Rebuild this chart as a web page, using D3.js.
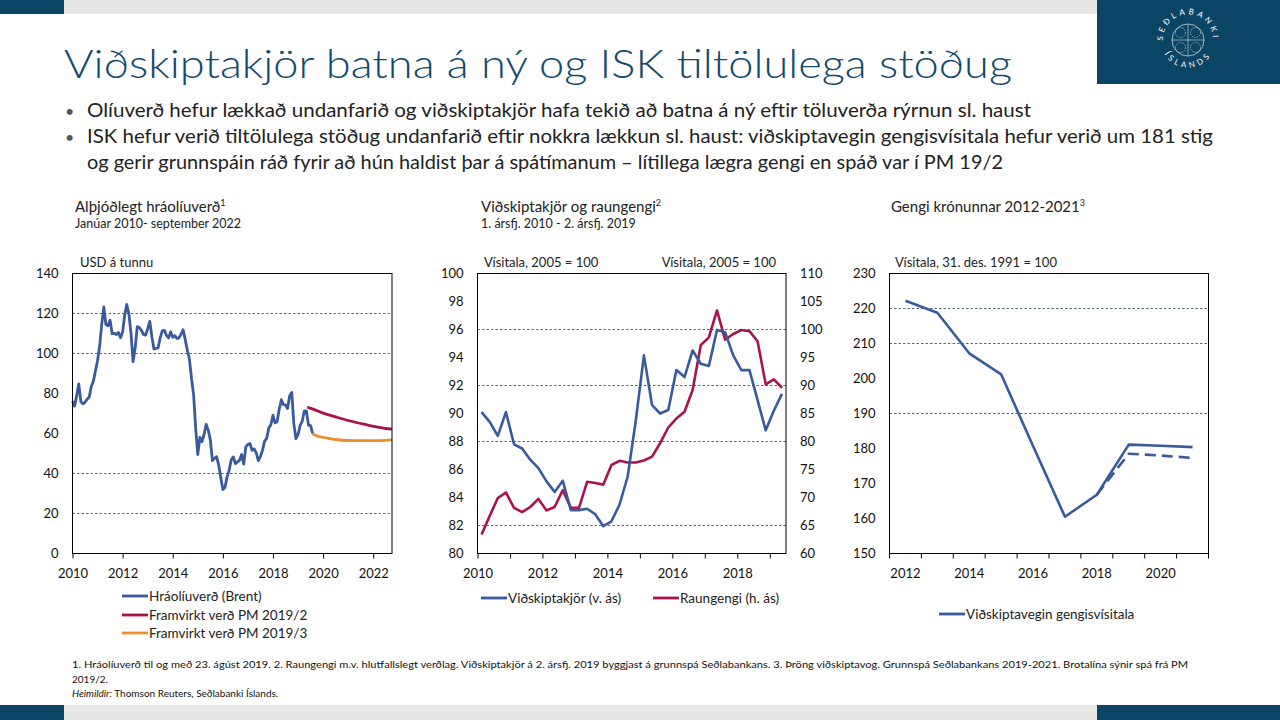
<!DOCTYPE html>
<html>
<head>
<meta charset="utf-8">
<title>Viðskiptakjör batna á ný og ISK tiltölulega stöðug</title>
<style>
  body { margin: 0; background: #fff; }
  svg { display: block; font-family: Lato, "Open Sans", sans-serif; }
</style>
</head>
<body>
<div id="container"></div>
<script src="https://cdn.jsdelivr.net/npm/d3@7"></script>
<script>
// ---- data ----

// Brent, monthly averages Jan 2010 - Aug 2019 (USD á tunnu)
const brentStart = 2010;
const brentValues = [
  76.2, 73.7, 78.8, 84.8, 75.9, 74.8, 75.6, 77.1, 78.2, 83.5, 86.1, 91.4,
  96.5, 103.7, 114.6, 123.3, 114.5, 113.9, 116.7, 109.9, 110.1, 109.5, 110.5, 107.9,
  110.7, 119.3, 124.5, 119.8, 110.3, 95.9, 102.6, 113.4, 113.0, 111.5, 109.5, 109.2,
  112.3, 116.1, 108.5, 102.3, 102.6, 102.9, 107.9, 111.3, 111.6, 109.1, 107.8, 110.8,
  108.1, 108.9, 107.5, 107.8, 109.7, 111.9, 106.8, 101.6, 97.1, 87.4, 79.4, 62.3,
  49.5, 58.1, 55.9, 59.5, 64.6, 61.7, 56.8, 46.5, 47.6, 48.4, 44.3, 38.0,
  32.0, 33.0, 38.2, 41.6, 46.7, 48.3, 44.9, 45.8, 46.6, 49.5, 44.7, 53.3,
  54.6, 54.9, 51.6, 52.3, 50.3, 46.4, 48.5, 51.7, 56.2, 57.6, 62.7, 64.4,
  69.1, 65.3, 66.0, 72.1, 76.9, 74.4, 74.3, 72.5, 78.9, 80.5, 64.8, 57.4,
  59.4, 64.0, 66.1, 71.2, 71.3, 64.2, 63.9, 60.0
];
// forward curves (date as fractional year)
const fwd2Times  = [2019.37, 2019.6, 2020.0, 2020.5, 2021.0, 2021.5, 2022.0, 2022.5, 2022.75];
const fwd2Values = [73.2, 72.2, 70.2, 68.3, 66.5, 65.0, 63.6, 62.5, 62.2];
const fwd3Times  = [2019.58, 2019.75, 2020.0, 2020.25, 2020.5, 2021.0, 2021.5, 2022.0, 2022.5, 2022.75];
const fwd3Values = [59.7, 58.8, 58.0, 57.5, 57.0, 56.5, 56.4, 56.4, 56.6, 56.9];

// quarterly, Q1 2010 - Q2 2019
const quarterStart = 2010;
const totValues = [ // Viðskiptakjör (v. ás)
  90.1, 89.4, 88.4, 90.1, 87.8, 87.5, 86.7, 86.1, 85.15, 84.4, 85.2, 83.1,
  83.1, 83.2, 82.8, 81.95, 82.3, 83.5, 85.5, 89.5, 94.15, 90.6, 90.0, 90.25,
  93.1, 92.6, 94.5, 93.55, 93.4, 95.97, 95.8, 94.15, 93.1, 93.1, 90.95, 88.8,
  90.2, 91.4
];
const reerValues = [ // Raungengi (h. ás)
  63.4, 66.7, 69.9, 70.9, 68.15, 67.4, 68.3, 69.75, 67.7, 68.3, 71.3, 68.15,
  68.15, 72.8, 72.6, 72.3, 75.8, 76.55, 76.25, 76.25, 76.6, 77.3, 79.7, 82.5,
  84.1, 85.3, 89.2, 97.2, 98.6, 103.4, 98.2, 99.2, 99.9, 99.7, 97.9, 90.2,
  91.1, 89.6
];

// Viðskiptavegin gengisvísitala, yearly
const iskYears    = ["2012", "2013", "2014", "2015", "2016", "2017", "2018", "2019", "2020", "2021"];
const iskIndex    = [222.2, 218.8, 207.2, 201.2, 180.7, 160.5, 166.8, 181.1, 180.8, 180.4];
const iskForecast = [null, null, null, null, null, null, 166.8, 178.5, 178.0, 177.3];

// ticks and gridlines
const p1YTicks = [0, 20, 40, 60, 80, 100, 120, 140];
const p1XTicks = [2010, 2012, 2014, 2016, 2018, 2020, 2022];
const p1Grid = [20, 40, 100, 120];
const p2LeftTicks = [80, 82, 84, 86, 88, 90, 92, 94, 96, 98, 100];
const p2RightTicks = [60, 65, 70, 75, 80, 85, 90, 95, 100, 105, 110];
const p2XTicks = [2010, 2011, 2012, 2013, 2014, 2015, 2016, 2017, 2018, 2019];
const p2Grid = [82, 88, 92, 96];
const p3YTicks = [150, 160, 170, 180, 190, 200, 210, 220, 230];
const p3XLabels = ["2012", "2014", "2016", "2018", "2020"];
const p3Grid = [190, 210, 220];

// ---- colours ----
const navy = "#0b4566";
const blue = "#3a5a9e";
const maroon = "#a8134f";
const orange = "#e8912c";
const gridColor = "#4b5a68";

const width = 1280, height = 720;
const svg = d3.select("#container").append("svg")
    .attr("width", width)
    .attr("height", height);

// ---- slide frame ----
svg.append("rect").attr("x", 0).attr("y", 0).attr("width", 64).attr("height", 14).attr("fill", navy);
svg.append("rect").attr("x", 64).attr("y", 0).attr("width", 1033).attr("height", 14).attr("fill", "#e9e7e3");
svg.append("rect").attr("x", 1097).attr("y", 0).attr("width", 183).attr("height", 84).attr("fill", navy);
svg.append("rect").attr("x", 0).attr("y", 705).attr("width", 64).attr("height", 15).attr("fill", navy);
svg.append("rect").attr("x", 64).attr("y", 705).attr("width", 1033).attr("height", 15).attr("fill", "#e9e7e3");
svg.append("rect").attr("x", 1097).attr("y", 705).attr("width", 183).attr("height", 15).attr("fill", navy);

// logo (simplified seal)
const logo = svg.append("g").attr("transform", "translate(1188,40)");
const defs = svg.append("defs");
defs.append("path").attr("id", "arcTop").attr("d", "M -21,13 A 25 25 0 1 1 21,13");
defs.append("path").attr("id", "arcBot").attr("d", "M -26,8 A 27 27 0 0 0 26,8");
logo.append("text").attr("fill", "#fff").attr("font-size", 8).attr("letter-spacing", 3.2)
  .append("textPath").attr("href", "#arcTop").attr("startOffset", "50%").attr("text-anchor", "middle")
  .text("SEÐLABANKI");
logo.append("text").attr("fill", "#fff").attr("font-size", 8).attr("letter-spacing", 3.5)
  .append("textPath").attr("href", "#arcBot").attr("startOffset", "50%").attr("text-anchor", "middle")
  .text("ÍSLANDS");
logo.append("circle").attr("r", 16).attr("fill", "none").attr("stroke", "#fff").attr("stroke-width", 0.6);
logo.append("path").attr("d", "M -16,0 H 16 M 0,-16 V 16").attr("stroke", "#fff").attr("stroke-width", 0.5);
[[-7.5, -7.5], [7.5, -7.5], [-7.5, 7.5], [7.5, 7.5]].forEach(([cx, cy]) =>
  logo.append("circle").attr("cx", cx).attr("cy", cy).attr("r", 5)
    .attr("fill", "none").attr("stroke", "#fff").attr("stroke-width", 0.5).attr("stroke-dasharray", "1.5,1"));

// ---- title and bullets ----
svg.append("text").attr("x", 64).attr("y", 78)
  .attr("font-size", 40).attr("font-weight", 300).attr("fill", "#114a6b")
  .attr("textLength", 948).attr("lengthAdjust", "spacingAndGlyphs")
  .text("Viðskiptakjör batna á ný og ISK tiltölulega stöðug");

const bullets = [
  {y: 117, text: "Olíuverð hefur lækkað undanfarið og viðskiptakjör hafa tekið að batna á ný eftir töluverða rýrnun sl. haust", len: 944, dot: true},
  {y: 143, text: "ISK hefur verið tiltölulega stöðug undanfarið eftir nokkra lækkun sl. haust: viðskiptavegin gengisvísitala hefur verið um 181 stig", len: 1126, dot: true},
  {y: 169, text: "og gerir grunnspáin ráð fyrir að hún haldist þar á spátímanum – lítillega lægra gengi en spáð var í PM 19/2", len: 916, dot: false}
];
bullets.forEach(b => {
  if (b.dot) svg.append("text").attr("x", 65).attr("y", b.y).attr("font-size", 16).attr("fill", "#555").text("•");
  svg.append("text").attr("x", 87).attr("y", b.y)
    .attr("font-size", 19).attr("fill", "#222")
    .attr("textLength", b.len).attr("lengthAdjust", "spacingAndGlyphs")
    .text(b.text);
});

// ---- helpers ----
const plotTop = 273.5, plotBottom = 553.5;
const tickFont = 13;

function styleAxis(g) {
  g.select(".domain").remove();
  g.selectAll("text").attr("font-size", tickFont).attr("fill", "#111").attr("font-family", "Lato, sans-serif");
  g.selectAll("line").attr("stroke", "#000");
}

function grid(vals, y, x0, x1) {
  svg.append("g").selectAll("line").data(vals).join("line")
    .attr("x1", x0).attr("x2", x1)
    .attr("y1", d => y(d)).attr("y2", d => y(d))
    .attr("stroke", gridColor).attr("stroke-width", 0.9).attr("stroke-dasharray", "2.5,2");
}

function frame(x0, x1) {
  svg.append("rect").attr("x", x0).attr("y", plotTop).attr("width", x1 - x0).attr("height", plotBottom - plotTop)
    .attr("fill", "none").attr("stroke", "#000").attr("stroke-width", 1);
}

function panelTitle(x, title, sup, sub) {
  const t = svg.append("text").attr("x", x).attr("y", 212).attr("font-size", 15).attr("fill", "#222");
  t.append("tspan").text(title);
  t.append("tspan").attr("font-size", 9).attr("dy", -6).text(sup);
  if (sub) svg.append("text").attr("x", x).attr("y", 228).attr("font-size", 12.5).attr("fill", "#222").text(sub);
}

function unitLabel(x, text, anchor) {
  svg.append("text").attr("x", x).attr("y", 267).attr("font-size", 13).attr("fill", "#222")
    .attr("text-anchor", anchor || "start").text(text);
}

function legendItem(x, y, color, text) {
  svg.append("line").attr("x1", x).attr("x2", x + 26).attr("y1", y).attr("y2", y)
    .attr("stroke", color).attr("stroke-width", 2.8);
  svg.append("text").attr("x", x + 27).attr("y", y + 4.5).attr("font-size", 13.5).attr("fill", "#222").text(text);
}

// ================= Panel 1: Brent =================
const x1 = d3.scaleLinear().domain([2010, 2022.75]).range([72.5, 392]);
const y1 = d3.scaleLinear().domain([0, 140]).range([plotBottom, plotTop]);

panelTitle(75, "Alþjóðlegt hráolíuverð", "1", "Janúar 2010- september 2022");
unitLabel(80, "USD á tunnu");
grid(p1Grid, y1, 72.5, 392);

svg.append("g").attr("transform", `translate(72.5,0)`)
  .call(d3.axisLeft(y1).tickValues(p1YTicks).tickSize(0).tickPadding(14))
  .call(styleAxis);
svg.append("g").attr("transform", `translate(0,${plotBottom})`)
  .call(d3.axisBottom(x1).tickValues(p1XTicks).tickFormat(d3.format("d")).tickSize(5).tickPadding(10))
  .call(styleAxis);

const brentLine = d3.line().x((d, i) => x1(brentStart + i / 12)).y(d => y1(d));
const fwdLine = d3.line().x(d => x1(d[0])).y(d => y1(d[1])).curve(d3.curveMonotoneX);

svg.append("path").attr("d", fwdLine(d3.zip(fwd3Times, fwd3Values)))
  .attr("fill", "none").attr("stroke", orange).attr("stroke-width", 2.8);
svg.append("path").attr("d", fwdLine(d3.zip(fwd2Times, fwd2Values)))
  .attr("fill", "none").attr("stroke", maroon).attr("stroke-width", 2.8);
svg.append("path").attr("d", brentLine(brentValues))
  .attr("fill", "none").attr("stroke", blue).attr("stroke-width", 2.8).attr("stroke-linejoin", "round");
frame(72.5, 392);

legendItem(122, 596, blue, "Hráolíuverð (Brent)");
legendItem(122, 615, maroon, "Framvirkt verð PM 2019/2");
legendItem(122, 633, orange, "Framvirkt verð PM 2019/3");

// ================= Panel 2: terms of trade and REER =================
const x2 = d3.scaleLinear().domain([2010, 2019.5]).range([477.5, 786]);
const y2L = d3.scaleLinear().domain([80, 100]).range([plotBottom, plotTop]);
const y2R = d3.scaleLinear().domain([60, 110]).range([plotBottom, plotTop]);

panelTitle(481, "Viðskiptakjör og raungengi", "2", "1. ársfj. 2010 - 2. ársfj. 2019");
unitLabel(484, "Vísitala, 2005 = 100");
unitLabel(776, "Vísitala, 2005 = 100", "end");
grid(p2Grid, y2L, 477.5, 786);

svg.append("g").attr("transform", `translate(477.5,0)`)
  .call(d3.axisLeft(y2L).tickValues(p2LeftTicks).tickSize(0).tickPadding(14))
  .call(styleAxis);
svg.append("g").attr("transform", `translate(786,0)`)
  .call(d3.axisRight(y2R).tickValues(p2RightTicks).tickSize(0).tickPadding(14))
  .call(styleAxis);
svg.append("g").attr("transform", `translate(0,${plotBottom})`)
  .call(d3.axisBottom(x2).tickValues(p2XTicks).tickFormat(d => d % 2 === 0 ? d : "").tickSize(5).tickPadding(10))
  .call(styleAxis);

const qx = i => x2(quarterStart + (i + 0.5) / 4);
svg.append("path").attr("d", d3.line().x((d, i) => qx(i)).y(d => y2R(d))(reerValues))
  .attr("fill", "none").attr("stroke", maroon).attr("stroke-width", 2.6).attr("stroke-linejoin", "round");
svg.append("path").attr("d", d3.line().x((d, i) => qx(i)).y(d => y2L(d))(totValues))
  .attr("fill", "none").attr("stroke", blue).attr("stroke-width", 2.6).attr("stroke-linejoin", "round");
frame(477.5, 786);

legendItem(481, 598, blue, "Viðskiptakjör (v. ás)");
legendItem(653, 598, maroon, "Raungengi (h. ás)");

// ================= Panel 3: ISK =================
const x3 = d3.scaleBand().domain(iskYears).range([889.5, 1208.5]).padding(0);
const y3 = d3.scaleLinear().domain([150, 230]).range([plotBottom, plotTop]);

panelTitle(891, "Gengi krónunnar 2012-2021", "3", null);
unitLabel(895, "Vísitala, 31. des. 1991 = 100");
grid(p3Grid, y3, 889.5, 1208.5);

svg.append("g").attr("transform", `translate(889.5,0)`)
  .call(d3.axisLeft(y3).tickValues(p3YTicks).tickSize(0).tickPadding(14))
  .call(styleAxis);

// category axis: ticks on boundaries, labels on every other category
const xAxis3 = svg.append("g");
xAxis3.selectAll("line").data(iskYears.concat(["end"])).join("line")
  .attr("x1", d => d === "end" ? 1208.5 : x3(d)).attr("x2", d => d === "end" ? 1208.5 : x3(d))
  .attr("y1", plotBottom).attr("y2", plotBottom + 5).attr("stroke", "#000");
xAxis3.selectAll("text").data(p3XLabels).join("text")
  .attr("x", d => x3(d) + x3.bandwidth() / 2).attr("y", plotBottom + 24.5)
  .attr("text-anchor", "middle").attr("font-size", tickFont).attr("fill", "#111").text(d => d);

const cx = d => x3(d) + x3.bandwidth() / 2;
const iskPts = iskYears.map((yr, i) => [yr, iskIndex[i]]);
const fcPts = iskYears.map((yr, i) => [yr, iskForecast[i]]);
const line3 = d3.line().defined(d => d[1] != null).x(d => cx(d[0])).y(d => y3(d[1]));
svg.append("path").attr("d", line3(fcPts))
  .attr("fill", "none").attr("stroke", blue).attr("stroke-width", 2.6).attr("stroke-dasharray", "11,6");
svg.append("path").attr("d", line3(iskPts))
  .attr("fill", "none").attr("stroke", blue).attr("stroke-width", 2.6).attr("stroke-linejoin", "round");
frame(889.5, 1208.5);

legendItem(939, 614, blue, "Viðskiptavegin gengisvísitala");

// ---- footnotes ----
svg.append("text").attr("x", 72).attr("y", 668).attr("font-size", 10).attr("fill", "#111")
  .attr("textLength", 1116).attr("lengthAdjust", "spacingAndGlyphs")
  .text("1. Hráolíuverð til og með 23. ágúst 2019. 2. Raungengi m.v. hlutfallslegt verðlag. Viðskiptakjör á 2. ársfj. 2019 byggjast á grunnspá Seðlabankans. 3. Þröng viðskiptavog. Grunnspá Seðlabankans 2019-2021. Brotalína sýnir spá frá PM");
svg.append("text").attr("x", 72).attr("y", 683).attr("font-size", 10).attr("fill", "#111").text("2019/2.");
const src = svg.append("text").attr("x", 72).attr("y", 697).attr("font-size", 10).attr("fill", "#111");
src.append("tspan").attr("font-style", "italic").text("Heimildir: ");
src.append("tspan").text("Thomson Reuters, Seðlabanki Íslands.");
</script>
</body>
</html>
